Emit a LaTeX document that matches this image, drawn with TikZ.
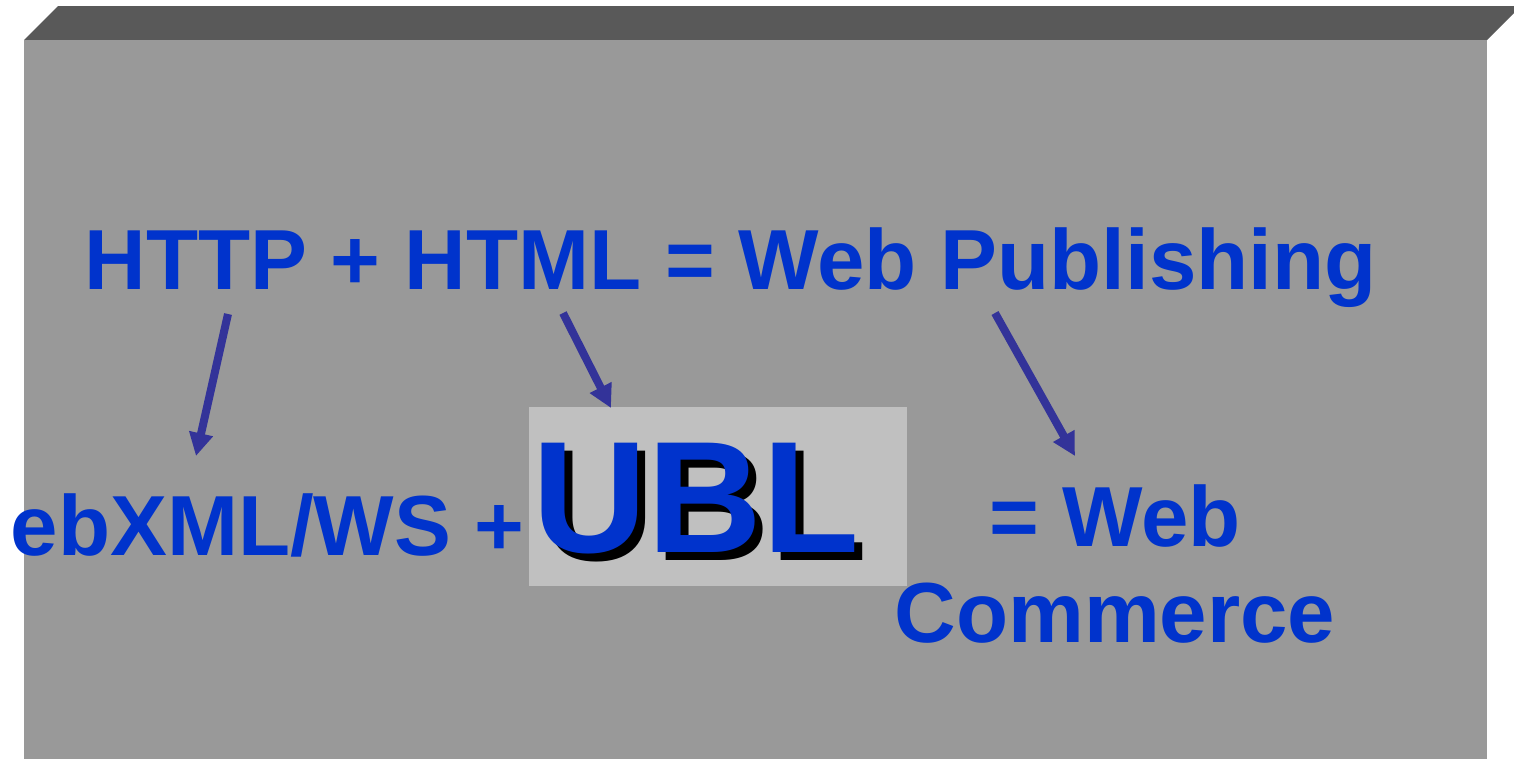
\documentclass[tikz,border=0pt]{standalone}
\usepackage{fontspec}
\setmainfont{Liberation Sans}
\usetikzlibrary{arrows.meta}

\definecolor{wallgray}{HTML}{999999}
\definecolor{topgray}{HTML}{595959}
\definecolor{ublgray}{HTML}{C0C0C0}
\definecolor{textblue}{HTML}{0033CC}
\definecolor{arrowblue}{HTML}{333399}

\begin{document}
\begin{tikzpicture}[x=0.01cm, y=-0.01cm]
        \useasboundingbox (0,0) rectangle (1514,759);
        % slab
        \fill[topgray] (24,40) -- (58,6) -- (1521,6) -- (1487,40) -- cycle;
        \fill[wallgray] (24,40) rectangle (1487,759);
        \fill[ublgray] (529,407) rectangle (907,586);
        \begin{scope}[every node/.style={inner sep=0, anchor=base west, text=textblue, font=\fontsize{24.25}{27.3}\selectfont\bfseries}]
            \node (Publishing) at (84,289) {HTTP + HTML = Web Publishing};
            \node (EbXML) at (10,555) {ebXML/WS +};
            \node[anchor=base, align=center] (Commerce) at (1115,642) {= Web\\Commerce};
            \node[text=black, font=\fontsize{45.2}{50}\selectfont\bfseries] (UBLShadow) at (540,560) {UBL};
            \node[font=\fontsize{45.2}{50}\selectfont\bfseries] (UBL) at (532,552) {UBL};
        \end{scope}
        \coordinate (FromHTTP) at (228,314);
        \coordinate (ToEbXML) at (196,456);
        \coordinate (FromHTML) at (563,313);
        \coordinate (ToUBL) at (611,408);
        \coordinate (FromWeb) at (995,313);
        \coordinate (ToCommerce) at (1075,456);
        \begin{scope}[every edge/.style={draw=arrowblue, line width=0.08cm, -{Triangle[length=0.23cm, width=0.23cm]}}]
            \path (FromHTTP) edge (ToEbXML);
            \path (FromHTML) edge (ToUBL);
            \path (FromWeb) edge (ToCommerce);
        \end{scope}
    \end{tikzpicture}
\end{document}
